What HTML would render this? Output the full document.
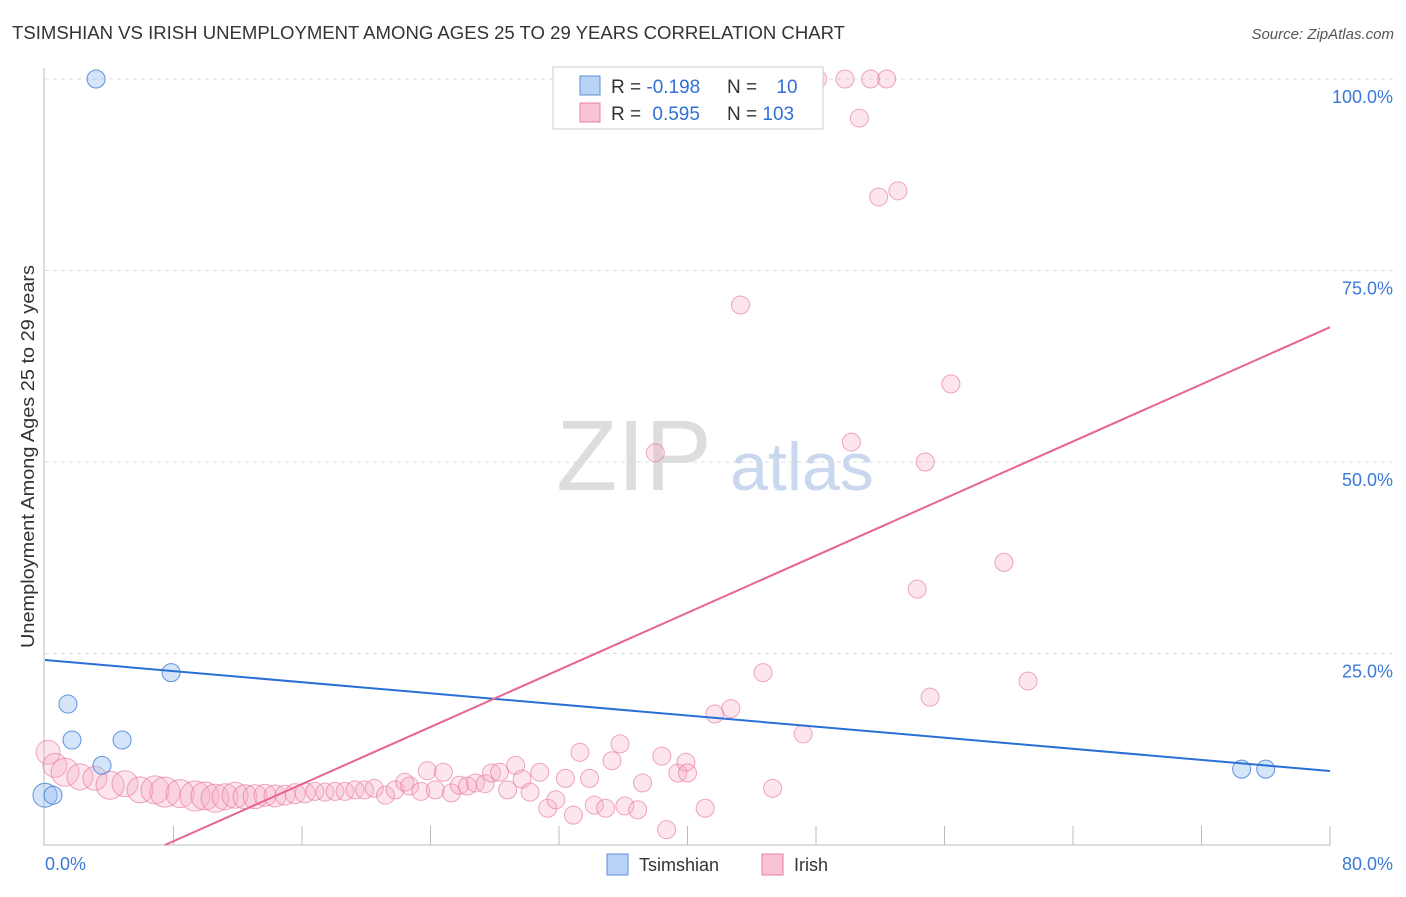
<!DOCTYPE html>
<html><head><meta charset="utf-8"><style>
body{margin:0;background:#fff;font-family:"Liberation Sans",sans-serif}
svg text{font-family:"Liberation Sans",sans-serif}
</style></head><body>
<svg id="c" width="1406" height="892">
<text x="12" y="39" font-size="18" textLength="833" lengthAdjust="spacingAndGlyphs" fill="#333">TSIMSHIAN VS IRISH UNEMPLOYMENT AMONG AGES 25 TO 29 YEARS CORRELATION CHART</text>
<text x="1394" y="39" font-size="15" fill="#555" font-style="italic" text-anchor="end">Source: ZipAtlas.com</text>
<text transform="translate(34,648) rotate(-90)" font-size="18" textLength="383" lengthAdjust="spacingAndGlyphs" fill="#333">Unemployment Among Ages 25 to 29 years</text>
<text x="634" y="490" font-size="100" fill="#ddd" font-family="Liberation Serif" text-anchor="middle">ZIP</text>
<text x="802" y="490" font-size="68" fill="#c9d8ef" text-anchor="middle">atlas</text>
<g id="grid"></g><g id="marks"></g>
<rect x="553" y="67" width="270" height="62" fill="#fff" stroke="#ccc"/>
<rect x="580" y="76" width="20" height="19" fill="#b8d3f5" stroke="#5b8fd9"/>
<rect x="580" y="103" width="20" height="19" fill="#f8c4d4" stroke="#e87fa0"/>
<text x="611" y="93" font-size="19" fill="#333">R = <tspan fill="#2f6fd6">-0.198</tspan></text>
<text x="727" y="93" font-size="19" fill="#333">N = <tspan fill="#2f6fd6" dx="14">10</tspan></text>
<text x="611" y="120" font-size="19" fill="#333">R = <tspan fill="#2f6fd6" dx="6">0.595</tspan></text>
<text x="727" y="120" font-size="19" fill="#333">N = <tspan fill="#2f6fd6">103</tspan></text>
<rect x="607" y="854" width="21" height="21" fill="#b8d3f5" stroke="#5b8fd9"/>
<text x="639" y="871" font-size="18" fill="#333">Tsimshian</text>
<rect x="762" y="854" width="21" height="21" fill="#f8c4d4" stroke="#e87fa0"/>
<text x="794" y="871" font-size="18" fill="#333">Irish</text>
</svg>
<script>
const yTicks=[25,50,75,100];
const yTickLabels=["25.0%","50.0%","75.0%","100.0%"];
const xTickVals=[8,16,24,32,40,48,56,64,72,80];
const xLabels=["0.0%","80.0%"];
const blueX=[3.18,1.43,1.68,4.8,7.85,3.55,0,0.5,74.5,76.0];
const blueY=[100,18.4,13.7,13.7,22.5,10.4,6.5,6.5,9.9,9.9];
const blueR=[9,9,9,9,9,9,12,9,9,9];
const pinkX=[0.19,0.62,1.25,2.18,3.11,4.05,4.98,5.92,6.85,7.47,8.41,9.34,9.96,10.59,11.21,11.83,12.45,13.08,13.7,14.32,14.94,15.57,16.19,16.81,17.43,18.06,18.68,
19.3,19.9,20.5,21.2,21.8,22.4,22.7,23.4,23.8,24.3,24.8,25.3,25.8,26.3,26.8,27.4,27.8,28.3,28.8,29.3,29.7,30.2,30.8,31.3,31.8,32.4,32.9,33.3,33.9,34.2,34.9,35.3,35.8,36.1,36.9,37.2,38.4,38.7,39.4,39.9,40.0,41.1,41.7,42.7,45.3,44.7,47.2,43.3,38.0,50.2,54.8,56.4,59.7,54.3,55.1,61.2,51.9,53.1,50.7,48.1,49.8,51.4,52.4];
const pinkY=[12.1,10.4,9.5,8.9,8.7,7.8,8.0,7.2,7.2,6.9,6.7,6.4,6.4,6.1,6.3,6.5,6.3,6.3,6.5,6.4,6.5,6.7,6.8,7.0,6.9,7.0,7.0,
7.2,7.2,7.4,6.5,7.2,8.2,7.7,7.0,9.7,7.2,9.5,6.8,7.8,7.7,8.1,8.0,9.4,9.5,7.2,10.4,8.6,6.9,9.5,4.8,5.9,8.7,3.9,12.1,8.7,5.2,4.8,11.0,13.2,5.1,4.6,8.1,11.6,2.0,9.4,10.8,9.4,4.8,17.1,17.8,7.4,22.5,14.5,70.5,51.2,52.6,50.0,60.2,36.9,33.4,19.3,21.4,84.6,85.4,94.9,100,100,100,100];
const pinkR=[12,12,14,13,12,14,13,13,14,15,14,15,14,14,13,13,12,12,11,11,10,10,10,9,9,9,9];
const blueTrend=[24.15,9.66];
const pinkTrend=[-6.96,0.932];
const L=45,R=1330,T=79,B=845;
const sx=v=>L+v/80*(R-L), sy=v=>B-v/100*(B-T);
const NS="http://www.w3.org/2000/svg";
function mk(tag,attrs,parent){const e=document.createElementNS(NS,tag);for(const k in attrs)e.setAttribute(k,attrs[k]);parent.appendChild(e);return e;}
const g=document.getElementById('grid'),m=document.getElementById('marks');
yTicks.forEach((v,i)=>{
 const l=mk('line',{x1:L,x2:1395,y1:sy(v),y2:sy(v),stroke:'#ddd','stroke-dasharray':'4,4'},g);
 
 
 const t=mk('text',{x:1393,y:sy(v)+24,'font-size':18,fill:'#3b7ad8','text-anchor':'end'},g);
 t.textContent=yTickLabels[i];
 
 
});
const ax=mk('path',{d:`M${L-1},68V${B}H${R}`,stroke:'#bbb',fill:'none'},g);


xTickVals.forEach(v=>{
 const l=mk('line',{x1:sx(v),x2:sx(v),y1:826,y2:B,stroke:'#bbb'},g);
 
 
});
[[0,'start',45],[80,'end',1393]].forEach((a,i)=>{
 const t=mk('text',{x:a[2],y:870,'font-size':18,fill:'#3b7ad8','text-anchor':a[1]},g);
 t.textContent=xLabels[i];
 
 
});
pinkX.forEach((x,i)=>{
 const c=mk('circle',{cx:sx(x),cy:sy(pinkY[i]),r:pinkR[i]||9,fill:'rgba(245,170,195,0.3)',stroke:'rgba(230,110,150,0.6)','stroke-width':1},m);
 
 
});
blueX.forEach((x,i)=>{
 const c=mk('circle',{cx:sx(x),cy:sy(blueY[i]),r:blueR[i],fill:'rgba(150,190,240,0.4)',stroke:'rgba(60,120,210,0.8)','stroke-width':1},m);
 
 
});
const bl=mk('line',{x1:sx(0),y1:sy(blueTrend[0]),x2:sx(80),y2:sy(blueTrend[1]),stroke:'#2a6fd6','stroke-width':2},m);


const x0=-pinkTrend[0]/pinkTrend[1];
const pl=mk('line',{x1:sx(x0),y1:sy(0),x2:sx(80),y2:sy(pinkTrend[0]+pinkTrend[1]*80),stroke:'#e8648f','stroke-width':2},m);


</script>
</body></html>
